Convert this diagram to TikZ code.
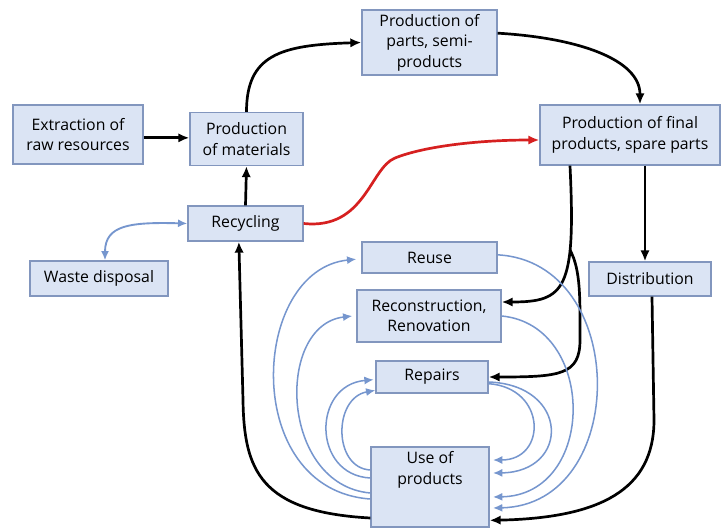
\documentclass[tikz,border=0pt]{standalone}
\usepackage{fontspec}
\setmainfont{Open Sans}
\usetikzlibrary{positioning,arrows.meta}
\definecolor{boxfill}{RGB}{219,228,244}
\definecolor{boxline}{RGB}{130,150,190}
\definecolor{loopblue}{RGB}{118,150,206}
\definecolor{recred}{RGB}{214,32,32}

\begin{document}
\begin{tikzpicture}[x=0.03cm,y=-0.03cm,inner sep=0pt,font=\fontsize{13.5}{17.5}\selectfont]
\tikzstyle{box}=[rectangle, draw=boxline, fill=boxfill, line width=1.1pt, align=center]
\tikzstyle{flow}=[-{Latex[length=3.3mm,width=2.8mm]}, line width=2.3pt, black]
\tikzstyle{loop}=[-{Latex[length=2.8mm,width=2.4mm]}, line width=1.3pt, loopblue]
\tikzstyle{back}=[-{Latex[length=3.3mm,width=2.8mm]}, line width=2.3pt, recred]
\useasboundingbox (0,0) rectangle (723,528);
\node[box, minimum width=4.05cm, minimum height=1.95cm] (parts) at (429.5,42.5) {Production of\\parts, semi-\\products};
\node[box, minimum width=5.4cm, minimum height=1.8cm] (final) at (630,135) {Production of final\\products, spare parts};
\node[box, minimum width=3.9cm, minimum height=1.77cm] (extr) at (78,134.5) {Extraction of\\raw resources};
\node[box, minimum width=3.39cm, minimum height=1.59cm] (mat) at (246.5,139) {Production\\of materials};
\node[box, minimum width=3.45cm, minimum height=1.05cm] (recyc) at (245.5,223.5) {Recycling};
\node[box, minimum width=4.14cm, minimum height=1.05cm] (waste) at (99,278.5) {Waste disposal};
\node[box, minimum width=4.05cm, minimum height=0.93cm] (reuse) at (429.5,257.5) {Reuse};
\node[box, minimum width=4.32cm, minimum height=1.56cm] (recon) at (429,316) {Reconstruction,\\Renovation};
\node[box, minimum width=3.36cm, minimum height=0.96cm] (rep) at (432,377) {Repairs};
\node[box, minimum width=3.54cm, minimum height=2.4cm, label={[align=center,anchor=north,yshift=-0.15cm]north:Use of\\products}] (use) at (430,487) {};
\node[box, minimum width=3.66cm, minimum height=1.02cm] (distr) at (650,279) {Distribution};
\coordinate (split) at (570,250);
\draw[flow] ([yshift=-0.1cm]extr.east) -- ([yshift=-0.1cm]extr.east -| mat.west);
\draw[flow] (recyc.north) -- (mat.south);
\draw[flow] (mat.north) .. controls (246.5,55) and (280,45) .. (parts.west);
\draw[flow] ([yshift=0.28cm]parts.east) .. controls (580,38) and (640,60) .. ([xshift=0.3cm]final.north);
\draw[back] (recyc.east) .. controls (365,230) and (370,168) .. (395,158) .. controls (425,146) and (480,140) .. ([yshift=-0.15cm]final.west);
\draw[loop, {Latex[length=2.8mm,width=2.4mm]}-{Latex[length=2.8mm,width=2.4mm]}, line width=1.6pt] (recyc.west) .. controls (130,222) and (105,225) .. ([xshift=0.18cm]waste.north);
\draw[flow] ([xshift=0.45cm]final.south) -- ([xshift=0.45cm]final.south |- distr.north);
\draw[flow] ([xshift=-1.8cm]final.south) .. controls (576,290) and (565,302) .. ([yshift=0.42cm]recon.east);
\draw[flow] (split) .. controls (581,270) and (580,300) .. (580,340) .. controls (580,375) and (560,377) .. (rep.east);
\draw[flow] ([xshift=0.06cm]distr.south) -- (654,420) .. controls (654,490) and (600,518) .. ([yshift=-1cm]use.east);
\draw[flow] ([yshift=-0.93cm]use.west) .. controls (260,512) and (244,470) .. (243,400) -- ([xshift=-0.2cm]recyc.south);
\draw[loop] ([yshift=-0.36cm]use.west) .. controls (240,490) and (250,270) .. ([xshift=-0.15cm,yshift=-0.05cm]reuse.west);
\draw[loop] ([yshift=-0.18cm]use.west) .. controls (280,485) and (275,325) .. ([xshift=-0.12cm]recon.west);
\draw[loop] ([yshift=0.27cm]use.west) .. controls (312,475) and (312,385) .. ([xshift=-0.05cm,yshift=-0.08cm]rep.west);
\draw[loop] ([yshift=0.51cm]use.west) .. controls (333,468) and (333,398) .. ([yshift=-0.4cm]rep.west);
\draw[loop] ([yshift=0.08cm]reuse.east) .. controls (630,262) and (630,505) .. ([xshift=0.1cm,yshift=-0.63cm]use.east);
\draw[loop] (recon.east) .. controls (597,325) and (597,495) .. ([xshift=0.1cm,yshift=-0.3cm]use.east);
\draw[loop] ([yshift=-0.15cm]rep.east) .. controls (570,385) and (570,472) .. ([xshift=0.1cm,yshift=0.42cm]use.east);
\draw[loop] ([yshift=-0.2cm]rep.east) .. controls (547,388) and (547,460) .. ([xshift=0.1cm,yshift=0.81cm]use.east);
\end{tikzpicture}
\end{document}
